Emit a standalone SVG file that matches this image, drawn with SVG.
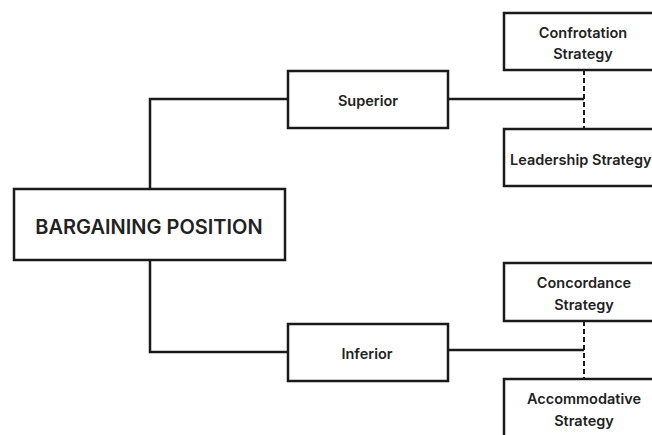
<svg xmlns="http://www.w3.org/2000/svg" width="652" height="435" viewBox="0 0 652 435">
<style>
.box{fill:#fff;stroke:#1a1a1a;stroke-width:2.5}
.ln{fill:none;stroke:#1a1a1a;stroke-width:2.5}
.dash{fill:none;stroke:#1a1a1a;stroke-width:2;stroke-dasharray:5,3}
.t{font-family:Inter,"Liberation Sans",sans-serif;font-weight:600;font-size:14.5px;fill:#222;text-anchor:middle;dominant-baseline:central}
.big{font-size:20px}
</style>
<rect width="652" height="435" fill="#fff"/>
<g id="connectors">
<polyline class="ln" points="288,99 150,99 150,189"/>
<polyline class="ln" points="150,260 150,352 288,352"/>
<line class="ln" x1="448" y1="99" x2="584" y2="99"/>
<line class="ln" x1="448" y1="350" x2="584" y2="350"/>
<line class="dash" x1="584" y1="70" x2="584" y2="129"/>
<line class="dash" x1="584" y1="321" x2="584" y2="379"/>
</g>
<g id="bargaining">
<rect class="box" x="14" y="189" width="271" height="71"/>
<text class="t big" x="149" y="227">BARGAINING POSITION</text>
</g>
<g id="superior">
<rect class="box" x="288" y="71" width="160" height="57"/>
<text class="t" x="368" y="100">Superior</text>
</g>
<g id="inferior">
<rect class="box" x="288" y="324" width="160" height="57"/>
<text class="t" x="367" y="353">Inferior</text>
</g>
<g id="confrontation">
<rect class="box" x="504" y="13" width="160" height="57"/>
<text class="t" x="583" y="32">Confrotation</text>
<text class="t" x="583" y="53">Strategy</text>
</g>
<g id="leadership">
<rect class="box" x="504" y="129" width="160" height="57"/>
<text class="t" x="510" y="159" style="text-anchor:start">Leadership Strategy</text>
</g>
<g id="concordance">
<rect class="box" x="504" y="263" width="160" height="58"/>
<text class="t" x="584" y="282">Concordance</text>
<text class="t" x="584" y="304">Strategy</text>
</g>
<g id="accommodative">
<rect class="box" x="504" y="379" width="160" height="70"/>
<text class="t" x="584" y="398">Accommodative</text>
<text class="t" x="584" y="420">Strategy</text>
</g>
</svg>
